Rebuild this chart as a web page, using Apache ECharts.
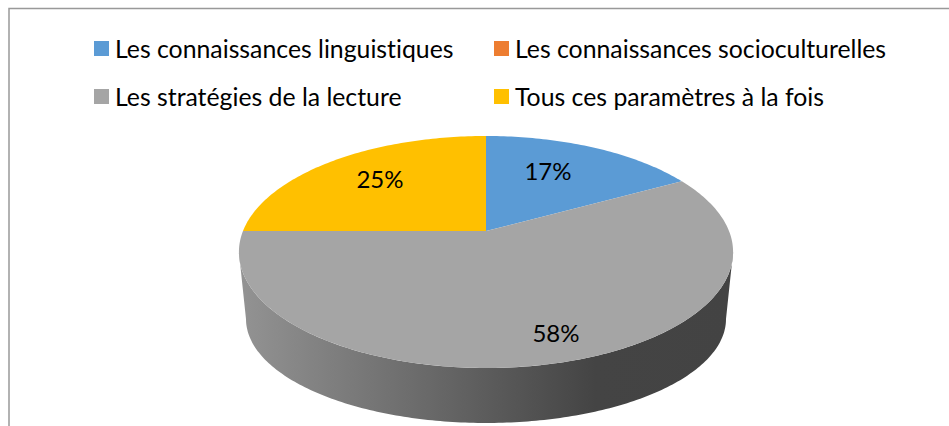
<!DOCTYPE html>
<html><head><meta charset="utf-8">
<style>html,body{margin:0;padding:0;background:#fff}#c{width:949px;height:426px}#c text{font-variant-ligatures:none}</style>
<script src="https://cdn.jsdelivr.net/npm/echarts@6/dist/echarts.min.js"></script>
</head><body><div id="c"></div>
<script>
const categories = ['Les connaissances linguistiques','Les connaissances socioculturelles','Les stratégies de la lecture','Tous ces paramètres à la fois'];
const values = [17, 0, 58, 25];
const colors = ['#5b9bd5','#ed7d31','#a5a5a5','#ffc000'];
const labelTexts = ['17%', '', '58%', '25%'];

// Layout of the tilted disc (perspective projection of a unit circle)
const APEX = {x:486, y:231}, RX = 243, RY = 112.2, PERSP = 0.181;
const BASE = {x:486, y:319, rx:240, ry:104};
const LABEL_AT = [{x:548,y:170}, null, {x:556,y:332}, {x:380,y:178}];
const FONT = 'Lato, Carlito, sans-serif';
const total = values.reduce((a,b)=>a+b,0);

function rim(deg, r){
  const t = deg*Math.PI/180, u = r*Math.sin(t), v = r*Math.cos(t), d = 1+PERSP*v;
  return [APEX.x + RX*u/d, APEX.y - RY*v/d];
}
function wallPoints(){
  const pts = [];
  const a = Math.acos(-PERSP)*180/Math.PI;
  for (let t=a; t<=360-a; t+=1) pts.push(rim(t,1));
  for (let t=180; t>=0; t-=1){
    const r=t*Math.PI/180;
    pts.push([BASE.x+BASE.rx*Math.cos(r), BASE.y+BASE.ry*Math.sin(r)]);
  }
  return pts;
}
const wallFill = new echarts.graphic.LinearGradient(240,0,733,0,[
  {offset:0,color:'#939393'},{offset:0.5,color:'#5c5c5c'},{offset:0.72,color:'#444444'},{offset:1,color:'#434343'}
],true);

function sliceRenderer(i){
  return function(params, api){
    const val = api.value(0);
    const children = [];
    if (i===2) children.push({type:'polygon',shape:{points:wallPoints()},style:{fill:wallFill}});
    if (val>0){
      const before = values.slice(0,i).reduce((a,b)=>a+b,0);
      const a0 = before/total*360, a1 = (before+val)/total*360;
      const pts=[[APEX.x,APEX.y]];
      for (let t=a0; t<a1; t+=1) pts.push(rim(t,1));
      pts.push(rim(a1,1));
      children.push({type:'polygon',shape:{points:pts},style:{fill:colors[i]}});
    }
    return {type:'group',children};
  };
}
function labelRenderer(params, api){
  const i = params.dataIndex, p = LABEL_AT[i];
  if (!p) return null;
  return {type:'text',style:{text:labelTexts[i],x:p.x,y:p.y,fill:'#000',font:'24px '+FONT,align:'center',verticalAlign:'middle'}};
}
const series = categories.map((name,i)=>({
  type:'custom',name,coordinateSystem:'none',animation:false,silent:true,
  itemStyle:{color:colors[i]},data:[values[i]],renderItem:sliceRenderer(i)
}));
series.push({type:'custom',name:'labels',coordinateSystem:'none',animation:false,silent:true,z:5,
  data:values.map(v=>[v]),renderItem:labelRenderer});

const legendBase={orient:'vertical',icon:'rect',itemWidth:15,itemHeight:15,itemGap:16,padding:0,top:32.5,selectedMode:false,
  textStyle:{fontFamily:FONT,fontSize:24.8,color:'#000',lineHeight:28,padding:[0,0,4,1]}};
const chart = echarts.init(document.getElementById('c'),null,{renderer:'svg'});
chart.setOption({
  animation:false,backgroundColor:'#fff',
  legend:[
    Object.assign({},legendBase,{left:94,data:[categories[0],categories[2]]}),
    Object.assign({},legendBase,{left:494,data:[categories[1],categories[3]]})
  ],
  graphic:[{type:'polyline',silent:true,shape:{points:[[9,426],[9,8.5],[949,8.5]]},style:{stroke:'#999',lineWidth:1.5,fill:null}}],
  series
});
</script></body></html>
